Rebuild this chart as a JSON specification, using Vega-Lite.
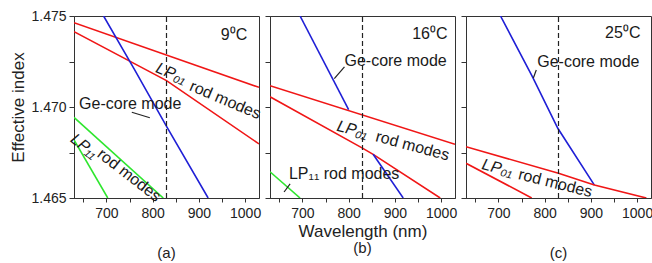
{
  "$schema": "https://vega.github.io/schema/vega-lite/v6.json",
  "padding": {"left": 9, "top": 8, "right": 0, "bottom": 2},
  "spacing": 11,
  "bounds": "flush",
  "config": {
    "font": "Liberation Sans",
    "view": {"stroke": "#333", "strokeWidth": 1},
    "axis": {"grid": false, "domainColor": "#333", "tickColor": "#333", "labelColor": "#222", "titleColor": "#222", "labelFontSize": 14, "titleFontSize": 17, "titleFontWeight": "normal"},
    "title": {"fontSize": 15, "fontWeight": "normal", "color": "#222"},
    "text": {"font": "Liberation Sans", "fontSize": 16, "color": "#1a1a1a"}
  },
  "datasets": {
    "curves": [
      {"panel": "a", "curve": "a_r1", "mode": "rod01", "lam": 630, "n": 1.47463},
      {"panel": "a", "curve": "a_r1", "mode": "rod01", "lam": 1030, "n": 1.47108},
      {"panel": "a", "curve": "a_r2", "mode": "rod01", "lam": 630, "n": 1.47414},
      {"panel": "a", "curve": "a_r2", "mode": "rod01", "lam": 830, "n": 1.47145},
      {"panel": "a", "curve": "a_r2", "mode": "rod01", "lam": 1030, "n": 1.46797},
      {"panel": "a", "curve": "a_b", "mode": "core", "lam": 694, "n": 1.475},
      {"panel": "a", "curve": "a_b", "mode": "core", "lam": 760, "n": 1.4721},
      {"panel": "a", "curve": "a_b", "mode": "core", "lam": 831, "n": 1.4689},
      {"panel": "a", "curve": "a_b", "mode": "core", "lam": 920, "n": 1.465},
      {"panel": "a", "curve": "a_g1", "mode": "rod11", "lam": 630, "n": 1.46943},
      {"panel": "a", "curve": "a_g1", "mode": "rod11", "lam": 823, "n": 1.465},
      {"panel": "a", "curve": "a_g2", "mode": "rod11", "lam": 630, "n": 1.46819},
      {"panel": "a", "curve": "a_g2", "mode": "rod11", "lam": 703, "n": 1.465},
      {"panel": "b", "curve": "b_r1", "mode": "rod01", "lam": 630, "n": 1.47117},
      {"panel": "b", "curve": "b_r1", "mode": "rod01", "lam": 1030, "n": 1.46795},
      {"panel": "b", "curve": "b_r2", "mode": "rod01", "lam": 630, "n": 1.47056},
      {"panel": "b", "curve": "b_r2", "mode": "rod01", "lam": 828, "n": 1.46777},
      {"panel": "b", "curve": "b_r2", "mode": "rod01", "lam": 853, "n": 1.4674},
      {"panel": "b", "curve": "b_r2", "mode": "rod01", "lam": 998, "n": 1.465},
      {"panel": "b", "curve": "b_b1", "mode": "core", "lam": 695, "n": 1.475},
      {"panel": "b", "curve": "b_b1", "mode": "core", "lam": 800, "n": 1.46986},
      {"panel": "b", "curve": "b_b2", "mode": "core", "lam": 853, "n": 1.4674},
      {"panel": "b", "curve": "b_b2", "mode": "core", "lam": 918, "n": 1.465},
      {"panel": "b", "curve": "b_g", "mode": "rod11", "lam": 630, "n": 1.46644},
      {"panel": "b", "curve": "b_g", "mode": "rod11", "lam": 695, "n": 1.465},
      {"panel": "c", "curve": "c_b", "mode": "core", "lam": 704.6, "n": 1.475},
      {"panel": "c", "curve": "c_b", "mode": "core", "lam": 773.5, "n": 1.47167},
      {"panel": "c", "curve": "c_b", "mode": "core", "lam": 828.5, "n": 1.46883},
      {"panel": "c", "curve": "c_b", "mode": "core", "lam": 907.6, "n": 1.46571},
      {"panel": "c", "curve": "c_r1", "mode": "rod01", "lam": 630, "n": 1.46782},
      {"panel": "c", "curve": "c_r1", "mode": "rod01", "lam": 830, "n": 1.46636},
      {"panel": "c", "curve": "c_r1", "mode": "rod01", "lam": 907.6, "n": 1.46571},
      {"panel": "c", "curve": "c_r1", "mode": "rod01", "lam": 1020, "n": 1.465},
      {"panel": "c", "curve": "c_r2", "mode": "rod01", "lam": 630, "n": 1.46691},
      {"panel": "c", "curve": "c_r2", "mode": "rod01", "lam": 772, "n": 1.465}
    ]
  },
  "hconcat": [
    {
      "width": 185, "height": 182,
      "title": {"text": "(a)", "orient": "bottom", "offset": 26},
      "encoding": {
        "x": {"field": "lam", "type": "quantitative", "scale": {"domain": [630, 1030], "nice": false, "zero": false},
              "axis": {"title": null, "tickSize": 4, "labelPadding": 4, "values": [650, 700, 750, 800, 850, 900, 950, 1000], "labelExpr": "datum.value % 100 == 0 ? datum.label : ''", "format": "d", "labelFlush": false}},
        "y": {"field": "n", "type": "quantitative", "scale": {"domain": [1.465, 1.475], "nice": false, "zero": false},
              "axis": {"title": "Effective index", "tickSize": 5, "labelPadding": 3, "titlePadding": 3, "values": [1.465, 1.4675, 1.47, 1.4725, 1.475], "format": ".3f", "labelExpr": "indexof(['1.465','1.470','1.475'], datum.label) >= 0 ? datum.label : ''", "labelFlush": false}}
      },
      "layer": [
        {
          "data": {"name": "curves"},
          "transform": [{"filter": "datum.panel === 'a'"}],
          "mark": {"type": "line", "clip": true, "strokeWidth": 1.6},
          "encoding": {
            "color": {"field": "mode", "type": "nominal", "scale": {"domain": ["rod01", "core", "rod11"], "range": ["#f01616", "#1f1fd6", "#2ee62e"]}, "legend": null},
            "detail": {"field": "curve"}
          }
        },
        {
          "data": {"values": [{"lam": 830, "n": 1.465, "n2": 1.475}]},
          "mark": {"type": "rule", "strokeDash": [5, 3], "color": "#222", "strokeWidth": 1.2},
          "encoding": {"y2": {"field": "n2"}}
        },
        {
          "data": {"values": [{"lam": 755, "n": 1.46971, "lam2": 794, "n2": 1.46941}]},
          "mark": {"type": "rule", "color": "#222", "strokeWidth": 1.2},
          "encoding": {"x2": {"field": "lam2"}, "y2": {"field": "n2"}}
        },
        {
          "data": {"values": [{"lam": 976, "n": 1.47396, "label": "9⁰C"}]},
          "mark": {"type": "text", "align": "center", "baseline": "middle"},
          "encoding": {"text": {"field": "label"}}
        },
        {
          "data": {"values": [{"lam": 641, "n": 1.47016, "label": "Ge-core mode"}]},
          "mark": {"type": "text", "align": "left", "baseline": "middle"},
          "encoding": {"text": {"field": "label"}}
        },
        {
          "data": {"values": [{"lam": 840, "n": 1.47185, "label": "LP₀₁"}]},
          "mark": {"type": "text", "align": "center", "baseline": "middle", "angle": 23, "fontStyle": "italic"},
          "encoding": {"text": {"field": "label"}}
        },
        {
          "data": {"values": [{"lam": 957, "n": 1.47038, "label": "rod modes"}]},
          "mark": {"type": "text", "align": "center", "baseline": "middle", "angle": 23},
          "encoding": {"text": {"field": "label"}}
        },
        {
          "data": {"values": [{"lam": 652, "n": 1.46785, "label": "LP₁₁"}]},
          "mark": {"type": "text", "align": "center", "baseline": "middle", "angle": 38, "fontStyle": "italic"},
          "encoding": {"text": {"field": "label"}}
        },
        {
          "data": {"values": [{"lam": 749, "n": 1.46625, "label": "rod modes"}]},
          "mark": {"type": "text", "align": "center", "baseline": "middle", "angle": 38},
          "encoding": {"text": {"field": "label"}}
        }
      ]
    },
    {
      "width": 185, "height": 182,
      "title": {"text": "(b)", "orient": "bottom", "offset": 2},
      "encoding": {
        "x": {"field": "lam", "type": "quantitative", "scale": {"domain": [630, 1030], "nice": false, "zero": false},
              "axis": {"title": "Wavelength (nm)", "titlePadding": 3, "tickSize": 4, "labelPadding": 4, "values": [650, 700, 750, 800, 850, 900, 950, 1000], "labelExpr": "datum.value % 100 == 0 ? datum.label : ''", "format": "d", "labelFlush": false}},
        "y": {"field": "n", "type": "quantitative", "scale": {"domain": [1.465, 1.475], "nice": false, "zero": false},
              "axis": {"title": null, "labels": false, "tickSize": 5, "values": [1.465, 1.4675, 1.47, 1.4725, 1.475]}}
      },
      "layer": [
        {
          "data": {"name": "curves"},
          "transform": [{"filter": "datum.panel === 'b'"}],
          "mark": {"type": "line", "clip": true, "strokeWidth": 1.6},
          "encoding": {
            "color": {"field": "mode", "type": "nominal", "scale": {"domain": ["rod01", "core", "rod11"], "range": ["#f01616", "#1f1fd6", "#2ee62e"]}, "legend": null},
            "detail": {"field": "curve"}
          }
        },
        {
          "data": {"values": [{"lam": 830, "n": 1.465, "n2": 1.475}]},
          "mark": {"type": "rule", "strokeDash": [5, 3], "color": "#222", "strokeWidth": 1.2},
          "encoding": {"y2": {"field": "n2"}}
        },
        {
          "data": {"values": [{"lam": 791, "n": 1.47221, "lam2": 769, "n2": 1.47156}, {"lam": 673.5, "n": 1.46577, "lam2": 660.4, "n2": 1.46533}]},
          "mark": {"type": "rule", "color": "#222", "strokeWidth": 1.2},
          "encoding": {"x2": {"field": "lam2"}, "y2": {"field": "n2"}}
        },
        {
          "data": {"values": [{"lam": 975.6, "n": 1.47402, "label": "16⁰C"}]},
          "mark": {"type": "text", "align": "center", "baseline": "middle"},
          "encoding": {"text": {"field": "label"}}
        },
        {
          "data": {"values": [{"lam": 791, "n": 1.47254, "label": "Ge-core mode"}, {"lam": 671, "n": 1.46631, "label": "LP₁₁ rod modes"}]},
          "mark": {"type": "text", "align": "left", "baseline": "middle"},
          "encoding": {"text": {"field": "label"}}
        },
        {
          "data": {"values": [{"lam": 808, "n": 1.46875, "label": "LP₀₁"}]},
          "mark": {"type": "text", "align": "center", "baseline": "middle", "angle": 15, "fontStyle": "italic"},
          "encoding": {"text": {"field": "label"}}
        },
        {
          "data": {"values": [{"lam": 938, "n": 1.46786, "label": "rod modes"}]},
          "mark": {"type": "text", "align": "center", "baseline": "middle", "angle": 15},
          "encoding": {"text": {"field": "label"}}
        }
      ]
    },
    {
      "width": 185, "height": 182,
      "title": {"text": "(c)", "orient": "bottom", "offset": 26},
      "encoding": {
        "x": {"field": "lam", "type": "quantitative", "scale": {"domain": [630, 1030], "nice": false, "zero": false},
              "axis": {"title": null, "tickSize": 4, "labelPadding": 4, "values": [650, 700, 750, 800, 850, 900, 950, 1000], "labelExpr": "datum.value % 100 == 0 ? datum.label : ''", "format": "d", "labelFlush": false}},
        "y": {"field": "n", "type": "quantitative", "scale": {"domain": [1.465, 1.475], "nice": false, "zero": false},
              "axis": {"title": null, "labels": false, "tickSize": 5, "values": [1.465, 1.4675, 1.47, 1.4725, 1.475]}}
      },
      "layer": [
        {
          "data": {"name": "curves"},
          "transform": [{"filter": "datum.panel === 'c'"}],
          "mark": {"type": "line", "clip": true, "strokeWidth": 1.6},
          "encoding": {
            "color": {"field": "mode", "type": "nominal", "scale": {"domain": ["rod01", "core", "rod11"], "range": ["#f01616", "#1f1fd6", "#2ee62e"]}, "legend": null},
            "detail": {"field": "curve"}
          }
        },
        {
          "data": {"values": [{"lam": 830, "n": 1.465, "n2": 1.475}]},
          "mark": {"type": "rule", "strokeDash": [5, 3], "color": "#222", "strokeWidth": 1.2},
          "encoding": {"y2": {"field": "n2"}}
        },
        {
          "data": {"values": [{"lam": 782, "n": 1.47203, "lam2": 775.6, "n2": 1.47159}]},
          "mark": {"type": "rule", "color": "#222", "strokeWidth": 1.2},
          "encoding": {"x2": {"field": "lam2"}, "y2": {"field": "n2"}}
        },
        {
          "data": {"values": [{"lam": 969, "n": 1.47407, "label": "25⁰C"}]},
          "mark": {"type": "text", "align": "center", "baseline": "middle"},
          "encoding": {"text": {"field": "label"}}
        },
        {
          "data": {"values": [{"lam": 784, "n": 1.47247, "label": "Ge-core mode"}]},
          "mark": {"type": "text", "align": "left", "baseline": "middle"},
          "encoding": {"text": {"field": "label"}}
        },
        {
          "data": {"values": [{"lam": 698, "n": 1.46665, "label": "LP₀₁"}]},
          "mark": {"type": "text", "align": "center", "baseline": "middle", "angle": 14, "fontStyle": "italic"},
          "encoding": {"text": {"field": "label"}}
        },
        {
          "data": {"values": [{"lam": 823, "n": 1.46581, "label": "rod modes"}]},
          "mark": {"type": "text", "align": "center", "baseline": "middle", "angle": 14},
          "encoding": {"text": {"field": "label"}}
        }
      ]
    }
  ]
}
